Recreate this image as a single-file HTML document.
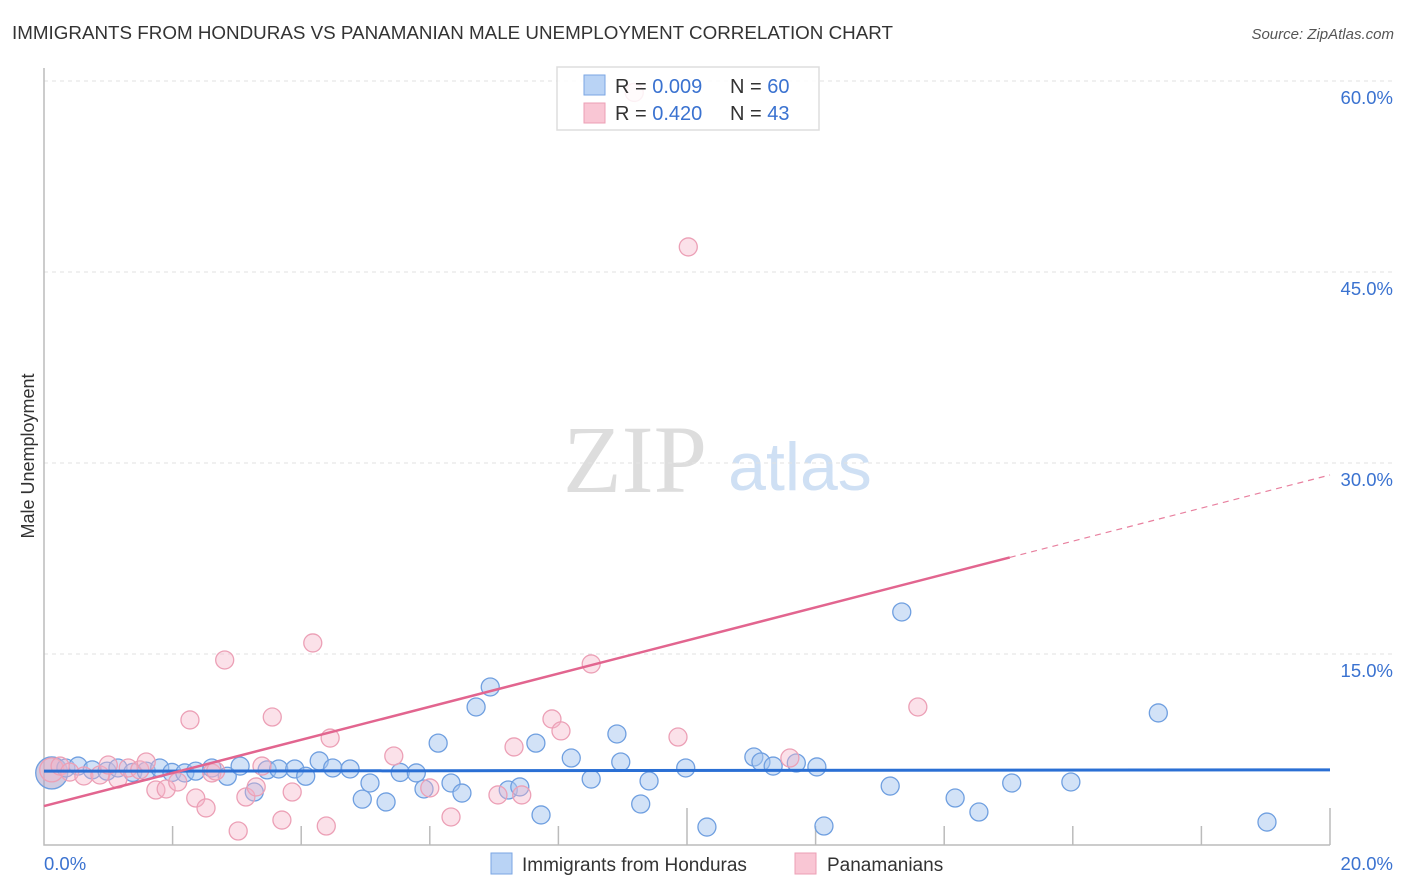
<!DOCTYPE html>
<html><head><meta charset="utf-8"><style>
body{margin:0;background:#fff;font-family:"Liberation Sans",sans-serif;}
svg{display:block}
</style></head><body>
<svg id="chart" width="1406" height="892" xmlns="http://www.w3.org/2000/svg">
<text x="12" y="39" font-size="18" fill="#333" textLength="881" lengthAdjust="spacingAndGlyphs">IMMIGRANTS FROM HONDURAS VS PANAMANIAN MALE UNEMPLOYMENT CORRELATION CHART</text>
<text x="1394" y="39" font-size="15" fill="#555" font-style="italic" text-anchor="end">Source: ZipAtlas.com</text>
<text x="635" y="492" font-size="96" fill="#ddd" font-family="Liberation Serif,serif" text-anchor="middle">ZIP</text>
<text x="800" y="490" font-size="68" fill="#cfe0f4" text-anchor="middle">atlas</text>
<text transform="translate(34,456) rotate(-90)" font-size="18" fill="#333" text-anchor="middle">Male Unemployment</text>
<g id="grid"></g><g id="axes"></g><g id="marks"></g>
<g>
<rect x="557" y="67" width="262" height="63" fill="rgba(255,255,255,0.85)" stroke="#ddd" stroke-width="1.5"/>
<rect x="584" y="75" width="21" height="20" fill="#b9d3f5" stroke="#7aa6e3"/>
<rect x="584" y="103" width="21" height="20" fill="#f9c6d4" stroke="#ec9fb5"/>
<text x="615" y="93" font-size="20" fill="#333">R = <tspan fill="#3a72d0">0.009</tspan></text>
<text x="730" y="93" font-size="20" fill="#333">N = <tspan fill="#3a72d0">60</tspan></text>
<text x="615" y="120" font-size="20" fill="#333">R = <tspan fill="#3a72d0"> 0.420</tspan></text>
<text x="730" y="120" font-size="20" fill="#333">N = <tspan fill="#3a72d0"> 43</tspan></text>
</g>
<g>
<rect x="491" y="853" width="21" height="21" fill="#b9d3f5" stroke="#7aa6e3"/>
<text x="522" y="871" font-size="19" fill="#333">Immigrants from Honduras</text>
<rect x="795" y="853" width="21" height="21" fill="#f9c6d4" stroke="#ec9fb5"/>
<text x="827" y="871" font-size="19" fill="#333">Panamanians</text>
</g>
</svg>
<script>
const blueX=[0.12,0.34,0.53,0.75,0.98,1.15,1.38,1.59,1.8,1.99,2.19,2.36,2.61,2.85,3.05,3.27,3.47,3.65,3.9,4.07,4.28,4.49,4.76,4.95,5.07,5.32,5.54,5.79,5.91,6.13,6.33,6.5,6.72,6.94,7.22,7.4,7.65,7.73,8.2,8.51,8.91,8.97,9.28,9.41,9.98,10.31,11.04,11.15,11.34,11.7,12.02,12.13,13.16,13.34,14.17,14.54,15.05,15.97,17.33,19.02];
const blueY=[5.66,6.05,6.2,5.9,5.8,6.05,5.7,5.8,6.05,5.7,5.66,5.8,6.05,5.4,6.2,4.16,5.9,5.97,5.97,5.4,6.6,6.05,5.97,3.6,4.87,3.38,5.7,5.66,4.4,8.0,4.87,4.08,10.84,12.41,4.32,4.56,8.0,2.36,6.83,5.18,8.72,6.52,3.22,5.03,6.05,1.41,6.91,6.52,6.2,6.44,6.13,1.49,4.63,18.3,3.69,2.59,4.87,4.95,10.37,1.8];
const pinkX=[0.12,0.25,0.4,0.62,0.87,1.0,1.15,1.31,1.49,1.59,1.74,1.9,2.08,2.27,2.36,2.52,2.61,2.67,2.81,3.02,3.14,3.3,3.39,3.55,3.7,3.86,4.18,4.39,4.45,5.44,6.0,6.33,7.06,7.31,7.43,7.9,8.04,8.51,9.86,10.02,11.6,13.59,9.18];
const pinkY=[5.9,6.2,5.73,5.42,5.5,6.28,5.18,6.05,5.9,6.52,4.32,4.4,4.95,9.82,3.69,2.91,5.66,5.81,14.53,1.1,3.77,4.56,6.2,10.05,1.96,4.16,15.87,1.49,8.4,6.99,4.48,2.2,3.93,7.7,3.93,9.9,8.96,14.22,8.48,46.97,6.83,10.84,59.1];
const yTicks=[15,30,45,60];
const xTickLabels=["0.0%","20.0%"];
const blueTrend=[5.8,5.9];   // value at x=0, x=20
const pinkTrend=[3.06,1.30]; // intercept, slope
const NS="http://www.w3.org/2000/svg";
const X0=44,X1=1330,Y0=845,YS=191/15;
const sx=v=>X0+v*(X1-X0)/20, sy=v=>Y0-v*YS;
function mk(t,a,p){const e=document.createElementNS(NS,t);for(const k in a)e.setAttribute(k,a[k]);p.appendChild(e);return e;}
const grid=document.getElementById('grid'),axes=document.getElementById('axes'),marks=document.getElementById('marks');
yTicks.forEach(t=>{
 const l=mk('line',{x1:X0,x2:1395,y1:sy(t),y2:sy(t),stroke:'#e2e2e2','stroke-dasharray':'4,4'},grid);
 
 
 const tx=mk('text',{x:1393,y:sy(t)+23,'font-size':18.5,fill:'#3a72d0','text-anchor':'end'},axes);
 tx.textContent=t.toFixed(1)+'%';
 
 
});
const ax=mk('path',{d:`M${X0} 68V${Y0}H${X1}`,fill:'none',stroke:'#bbb','stroke-width':1.5},axes);


for(let i=1;i<=10;i++){const x=sx(i*2);const tl=mk('line',{x1:x,x2:x,y1:(i==5||i==10)?808:826,y2:Y0,stroke:'#bbb','stroke-width':1.5},axes);
 
 }
xTickLabels.forEach((s,i)=>{const t=mk('text',{x:i?1393:44,y:870,'font-size':18.5,fill:'#3a72d0','text-anchor':i?'end':'start'},axes);t.textContent=s;
 
 });
blueX.forEach((x,i)=>{const c=mk('circle',{cx:sx(x),cy:sy(blueY[i]),r:i==0?16:9,fill:i==0?'rgba(170,160,200,0.55)':'rgba(165,198,240,0.5)',stroke:'#6f9fe0','stroke-width':1.3},marks);
 
 });
pinkX.forEach((x,i)=>{const c=mk('circle',{cx:sx(x),cy:sy(pinkY[i]),r:i==0?12:9,fill:'rgba(246,180,200,0.4)',stroke:'#eca0b6','stroke-width':1.3},marks);
 
 });
const bl=mk('line',{x1:sx(0),y1:sy(blueTrend[0]),x2:sx(20),y2:sy(blueTrend[1]),stroke:'#2a6fd4','stroke-width':3},marks);


const pe=15.02;
const pl=mk('line',{x1:sx(0),y1:sy(pinkTrend[0]),x2:sx(pe),y2:sy(pinkTrend[0]+pinkTrend[1]*pe),stroke:'#e2658f','stroke-width':2.5},marks);


const pd=mk('line',{x1:sx(pe),y1:sy(pinkTrend[0]+pinkTrend[1]*pe),x2:sx(20),y2:sy(pinkTrend[0]+pinkTrend[1]*20),stroke:'#e8809f','stroke-width':1.2,'stroke-dasharray':'6,5'},marks);


</script>
</body></html>
